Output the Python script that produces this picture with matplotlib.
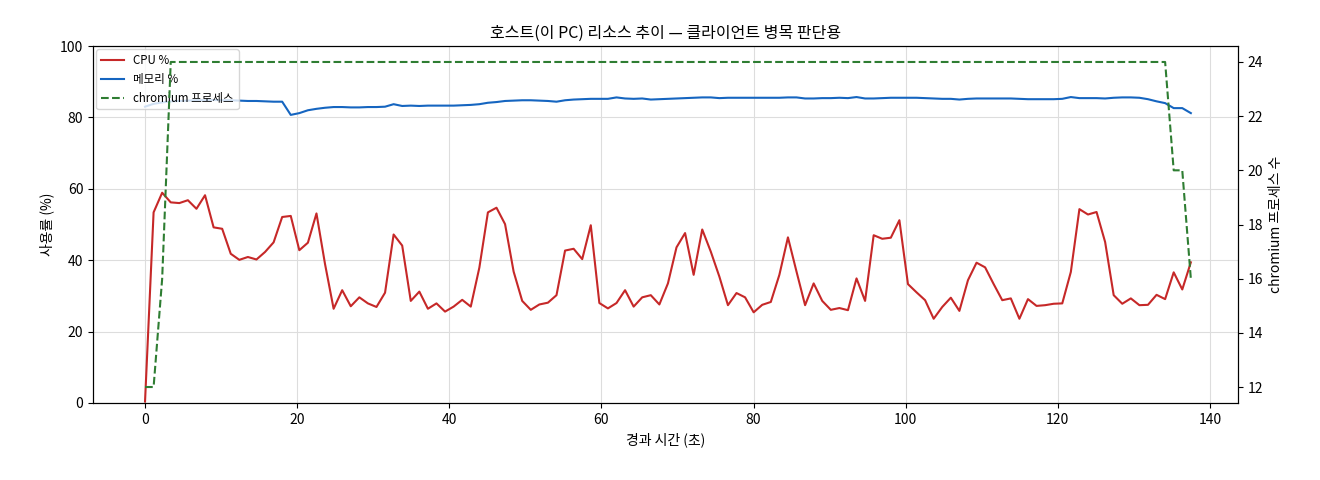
import matplotlib
matplotlib.use("Agg")
import matplotlib.pyplot as plt
import numpy as np

plt.rcParams['font.family'] = ['Noto Sans CJK KR', 'DejaVu Sans']

cpu = [0.4, 53.4, 58.9, 56.2, 56.0, 56.8, 54.4, 58.2, 49.2, 48.8, 41.8, 40.1, 40.9, 40.2, 42.3, 45.0,
       52.1, 52.4, 42.8, 44.9, 53.1, 38.9, 26.4, 31.6, 27.1, 29.6, 27.9, 26.9, 30.9, 47.2, 44.1,
       28.6, 31.2, 26.4, 27.9, 25.6, 27.0, 28.9, 27.0, 37.9, 53.4, 54.7,
       50.1, 36.8, 28.6, 26.1, 27.6, 28.1, 30.2, 42.7, 43.2, 40.3, 49.8, 28.0, 26.5, 28.0, 31.6, 27.0,
       29.6, 30.2, 27.6, 33.5, 43.6, 47.6, 35.9, 48.6, 42.4, 35.4, 27.4, 30.8, 29.6, 25.4, 27.5, 28.3,
       35.9, 46.4, 36.8, 27.4, 33.5, 28.6, 26.1, 26.6, 26.0,
       34.9, 28.6, 47.0, 46.0, 46.3, 51.2, 33.3, 31.0, 28.8, 23.6, 26.9, 29.5, 25.8, 34.4, 39.3, 38.0,
       33.3, 28.8, 29.3, 23.6, 29.1, 27.2, 27.4, 27.8, 27.9, 36.7, 54.3, 52.8, 53.5, 45.1, 30.2, 27.8,
       29.3, 27.4, 27.5, 30.3, 29.1, 36.6, 31.8, 39.4]

mem = [83.0, 83.8, 84.2, 84.5, 84.6, 84.7, 84.8, 84.8, 84.9, 84.8, 84.8, 84.7, 84.6, 84.6, 84.5, 84.4,
       84.4, 80.7, 81.2, 82.0, 82.4, 82.7, 82.9, 82.9, 82.8, 82.8, 82.9, 82.9, 83.0, 83.7, 83.2, 83.3,
       83.2, 83.3, 83.3, 83.3, 83.3, 83.4, 83.5, 83.7, 84.1, 84.3, 84.6, 84.7, 84.8, 84.8, 84.7, 84.6,
       84.4, 84.8, 85.0, 85.1, 85.2, 85.2, 85.2, 85.6, 85.3, 85.2, 85.3, 85.0, 85.1, 85.2, 85.3, 85.4,
       85.5, 85.6, 85.6, 85.4, 85.5, 85.5, 85.5, 85.5, 85.5, 85.5, 85.5, 85.6, 85.6, 85.3, 85.3, 85.4,
       85.4, 85.5, 85.4, 85.7, 85.3, 85.3, 85.4, 85.5, 85.5, 85.5, 85.5, 85.4, 85.3, 85.2, 85.2, 85.0,
       85.2, 85.3, 85.3, 85.3, 85.3, 85.3, 85.2, 85.1, 85.1, 85.1, 85.1, 85.2, 85.7, 85.4, 85.4, 85.4,
       85.3, 85.5, 85.6, 85.6, 85.5, 85.1, 84.5, 84.0, 82.6, 82.6, 81.2]

n = len(cpu)
procs = [12, 12, 16] + [24] * (119 - 3 + 1) + [20, 20, 16]
t = np.linspace(0, 137.5, n)

fig = plt.figure(figsize=(13.2, 4.8), dpi=100)
ax = fig.add_axes([93/1320, 1-403/480, (1238-93)/1320, (403-46)/480])
l1, = ax.plot(t, cpu, color='#c62828', lw=1.5, label='CPU %')
l2, = ax.plot(t, mem, color='#1565c0', lw=1.5, label='메모리 %')
ax.set_ylim(0, 100)
ax.set_xlim(-6.84, 143.7)
ax.grid(True, color='#dddddd', lw=0.8)
ax.set_ylabel('사용률 (%)', fontsize=10)
ax.set_xlabel('경과 시간 (초)', fontsize=10)
ax.set_title('호스트(이 PC) 리소스 추이 — 클라이언트 병목 판단용', fontsize=11.5)
ax2 = ax.twinx()
l3, = ax2.plot(t[:len(procs)], procs, color='#2e7d32', lw=1.5, ls='--', label='chromium 프로세스')
ax2.set_ylim(11.41, 24.59)
ax2.set_ylabel('chromium 프로세스 수', fontsize=10)
ax.legend(handles=[l1, l2, l3], loc='upper left', fontsize=8.3, borderaxespad=0.3)
for a in (ax, ax2):
    a.tick_params(labelsize=10)
fig.savefig('out.png', dpi=100)
